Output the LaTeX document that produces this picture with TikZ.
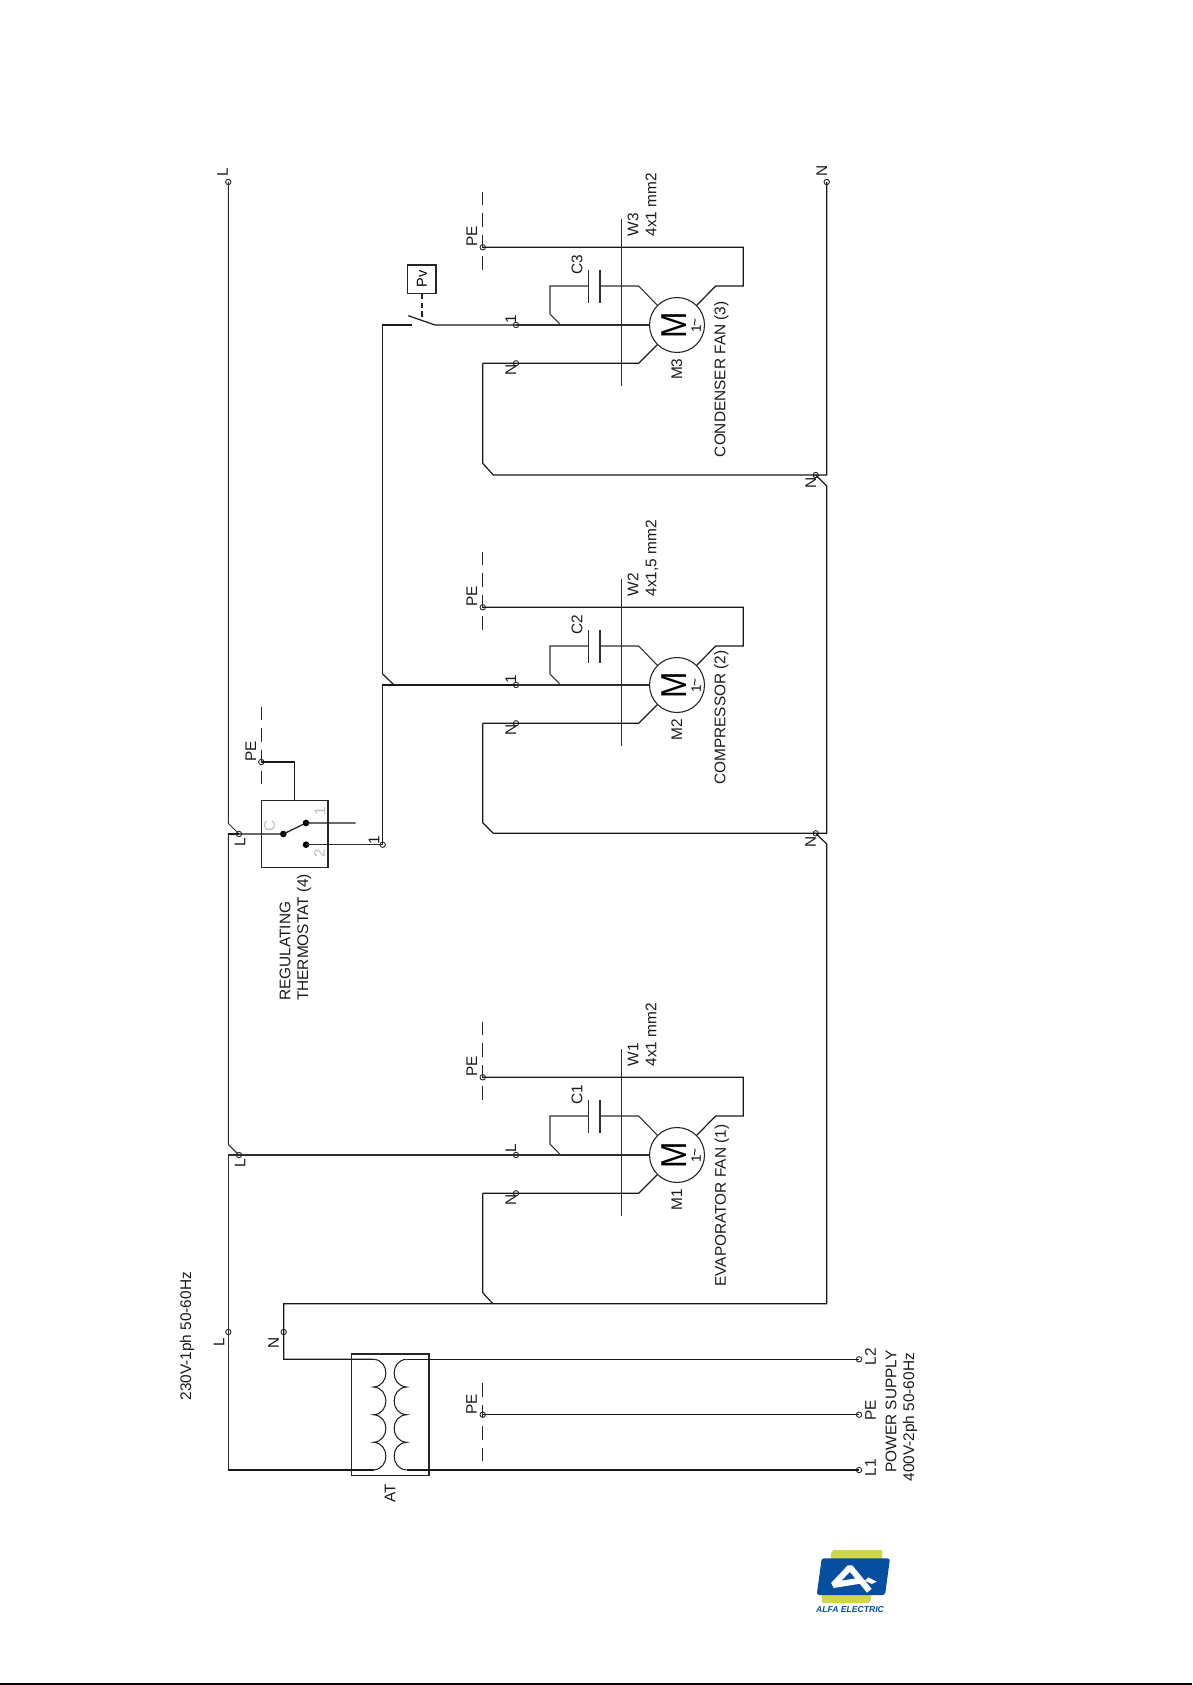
\documentclass[tikz,border=0pt]{standalone}
\usepackage{fontspec}
\setmainfont{Liberation Sans}
\definecolor{logoblue}{RGB}{6,78,160}
\definecolor{logoyel}{RGB}{206,214,74}
\tikzset{
  wire/.style={line width=1.2pt,line join=miter,black!90},
  thin wire/.style={line width=1.05pt,black!82},
  term/.style={circle,draw=black!85,line width=0.9pt,minimum size=5.4pt,inner sep=0pt},
  dotc/.style={circle,fill=black,minimum size=6.6pt,inner sep=0pt},
  lab/.style={rotate=90,inner sep=0pt,text height=10.9pt,text depth=0pt,font=\fontsize{15.4}{18}\selectfont,black!90},
  labstart/.style={lab,anchor=west},
  glab/.style={lab,black!25},
  pedash/.style={line width=1.1pt,black!85,dash pattern=on 13.5pt off 8pt},
  box/.style={draw=black!85,line width=1.1pt,inner sep=0pt}
}
\newcommand{\motorunit}[7]{%
 \begin{scope}[shift={(0,#2)}]
  \node[box,circle,minimum size=55pt] (#1mot) at (677,0) {};
  \node[rotate=90,inner sep=0pt,font=\fontsize{36}{38}\selectfont,text height=25.8pt,text depth=0pt,black] (#1big) at (673.5,0) {\scalebox{0.88}[1]{M}};
  \node[rotate=90,inner sep=0pt,font=\fontsize{13.5}{14}\selectfont,text height=9.7pt,text depth=0pt] (#1phase) at (696,0.7) {1\kern-1pt\raisebox{1.5pt}{\textasciitilde}};
  \node[term] (#1top) at (516,0) {};
  \node[term] (#1n) at (516,38.3) {};
  \node[term] (#1pe) at (482.7,-77.7) {};
  \coordinate (#1nc) at (482.7,38.3);
  \coordinate (#1nd) at (638.7,38.3);
  \coordinate (#1ja) at (560.7,0);
  \coordinate (#1jb) at (550,-11);
  \coordinate (#1jc) at (550,-39);
  \coordinate (#1p1) at (588.3,-39);
  \coordinate (#1p2) at (600,-39);
  \coordinate (#1cd) at (638.7,-39);
  \coordinate (#1ea) at (743.3,-77.7);
  \coordinate (#1eb) at (743.3,-39);
  \coordinate (#1ec) at (715.7,-39);
  \draw[thin wire] (#1top.center) -- (#1mot);
  \draw[wire] (#1nc) -- (#1n.center) -- (#1nd) -- (#1mot.225);
  \draw[thin wire] (#1ja) -- (#1jb) -- (#1jc) -- (#1p1);
  \draw[thin wire] (#1p2) -- (#1cd) -- (#1mot.135);
  \draw[thin wire] (588.3,-55) -- (588.3,-21.7);
  \draw[thin wire] (600,-55) -- (600,-21.7);
  \draw[wire] (#1pe.center) -- (#1ea) -- (#1eb) -- (#1ec) -- (#1mot.45);
  \draw[thin wire] (621.7,-105.7) -- (621.7,61);
  \draw[pedash] (482.7,-133.3) -- (482.7,-55);
  \node[lab] (#1pelab) at (471.7,-88.3) {PE};
  #7
  \node[lab] (#1nlab) at (510.7,45) {N};
  \node[lab] (#1clab) at (577,-60) {#4};
  \node[labstart] (#1wlab) at (633,-88.3) {#5};
  \node[labstart] (#1slab) at (651,-88.3) {#6};
  \node[lab] (#1mlab) at (676.7,44.3) {#3};
 \end{scope}}
\begin{document}
\begin{tikzpicture}[x=1pt,y=-1pt]
\useasboundingbox (0,0) rectangle (1192,1685);
\fill[black] (0,1683.4) rectangle (1192,1685);

% motor groups
\motorunit{a}{1155}{M1}{C1}{W1}{4x1 mm2}{\node[lab] (atoplab) at (510.7,-7) {L};}
\motorunit{b}{685}{M2}{C2}{W2}{4x1,5 mm2}{\node[lab] (btoplab) at (510.7,-6) {1};}
\motorunit{c}{325}{M3}{C3}{W3}{4x1 mm2}{\node[lab] (ctoplab) at (510.7,-6) {1};}

% terminals
\node[term] (tL) at (228.3,182) {};
\node[term] (tN) at (826.7,182) {};
\node[term] (jNc) at (815.7,475) {};
\node[term] (jNb) at (815.7,833.3) {};
\node[term] (jLth) at (239,834) {};
\node[term] (jLa) at (239,1155) {};
\node[term] (t1) at (382.7,844.7) {};
\node[term] (tPEth) at (261.3,762) {};
\node[term] (tLo) at (228.3,1332) {};
\node[term] (tNo) at (283.7,1332) {};
\node[term] (tPEo) at (482.7,1414.7) {};
\node[term] (tL1) at (859,1470) {};
\node[term] (tPE) at (859,1414.7) {};
\node[term] (tL2) at (859,1359.3) {};

% corners
\coordinate (Lj1) at (228.3,823.3);
\coordinate (Lc1) at (228.3,834);
\coordinate (Lj2) at (228.3,1144.3);
\coordinate (Lc2) at (228.3,1155);
\coordinate (Lc3) at (228.3,1470);
\coordinate (Nc1) at (826.7,475);
\coordinate (Nj1) at (826.7,486);
\coordinate (Nc2) at (826.7,833.3);
\coordinate (Nj2) at (826.7,844);
\coordinate (Nc3) at (826.7,1303.7);
\coordinate (Nc4) at (283.7,1303.7);
\coordinate (Nc5) at (283.7,1359.3);
\coordinate (coilNw) at (373.5,1359.3);
\coordinate (coilLw) at (373.5,1470);
\coordinate (coilNe) at (406.6,1359.3);
\coordinate (coilLe) at (406.6,1470);
\coordinate (sw1) at (382.7,685);
\coordinate (sw2) at (382.7,325);
\coordinate (sw3) at (412.3,325);
\coordinate (sw4) at (435,325);
\coordinate (sw5) at (408.3,315.7);
\coordinate (swj) at (382.7,674);
\coordinate (swk) at (394,685);
\coordinate (pvd) at (421.85,319.5);

% L line
\draw[thin wire] (tL.center) -- (Lj1) -- (jLth.center);
\draw[thin wire] (Lc1) -- (Lj2) -- (jLa.center);
\draw[wire] (Lc1) -- (jLth.center);
\draw[thin wire] (Lc2) -- (atop.center);
\draw[thin wire] (Lc2) -- (Lc3);
\draw[wire] (Lc3) -- (coilLw);

% N line
\draw[wire] (tN.center) -- (Nc1) -- (jNc.center) -- (Nj1) -- (Nc2) -- (jNb.center) -- (Nj2) -- (Nc3) -- (Nc4) -- (Nc5) -- (coilNw);
\draw[wire] (cnc) -- (482.7,463.3) -- (493.3,475) -- (jNc.center);
\draw[wire] (bnc) -- (482.7,822.7) -- (493.3,833.3) -- (jNb.center);
\draw[wire] (anc) -- (482.7,1292.7) -- (492.9,1303.7);

% thermostat
\node[box,minimum width=66.7pt,minimum height=66.6pt] (thbox) at (294.65,834) {};
\node[dotc] (dC) at (283.3,834) {};
\node[dotc] (d1) at (306,823) {};
\node[dotc] (d2) at (306,844.7) {};
\coordinate (d1e) at (355.7,823);
\draw[wire] (jLth.center) -- (dC.center) -- (d1.center) -- (d1e);
\draw[thin wire] (d2.center) -- (t1.center);
\draw[wire] (t1.center) -- (sw1) -- (btop.center);
\draw[wire] (tPEth.center) -| (thbox.north);
\draw[pedash] (261.3,706.7) -- (261.3,784);
\node[glab] (thC) at (269.3,825.7) {C};
\node[glab] (th1) at (320,811) {1};
\node[glab] (th2) at (319.5,853.3) {2};

% switch and Pv
\node[box,rotate=90,minimum size=28.3pt,font=\fontsize{14.5}{16}\selectfont] (pv) at (421.85,279.15) {Pv};
\draw[wire] (swj) -- (sw2) -- (sw3);
\draw[wire] (swj) -- (swk);
\draw[wire] (sw5) -- (sw4) -- (ctop.center);
\draw[line width=1.6pt,black!85,dash pattern=on 5.5pt off 3.2pt] (pv.west) -- (pvd);

% transformer
\node[box,minimum width=77.5pt,minimum height=121.7pt] (at) at (390.25,1414.85) {};
\draw[line width=1.05pt,black!88] (coilNw)
  .. controls (390,1360) and (390,1386) .. (373.5,1387)
  .. controls (390,1388) and (390,1414) .. (373.5,1414.7)
  .. controls (390,1415.7) and (390,1441) .. (373.5,1442.3)
  .. controls (390,1443.3) and (390,1469) .. (coilLw);
\draw[line width=1.05pt,black!88] (coilNe)
  .. controls (390,1360) and (390,1386) .. (406.6,1387)
  .. controls (390,1388) and (390,1414) .. (406.6,1414.7)
  .. controls (390,1415.7) and (390,1441) .. (406.6,1442.3)
  .. controls (390,1443.3) and (390,1469) .. (coilLe);
\draw[wire] (coilNe) -- (tL2.center);
\draw[wire] (coilLe) -- (tL1.center);
\draw[wire] (tPEo.center) -- (tPE.center);
\draw[pedash] (482.7,1383) -- (482.7,1461.3);

% free labels
\node[lab] (lLtop) at (222.5,172) {L};
\node[lab] (lNtop) at (821.7,170.7) {N};
\node[lab] (lNc) at (810.7,482.7) {N};
\node[lab] (lNb) at (810.3,841.7) {N};
\node[lab] (lLth) at (240,842.3) {L};
\node[lab] (lPEth) at (250.7,751.7) {PE};
\node[lab] (l1) at (374,840.5) {1};
\node[lab] (lLa) at (240,1163) {L};
\node[lab] (lLo) at (218.9,1342.7) {L};
\node[lab] (lNo) at (273.5,1342.7) {N};
\node[lab] (lPEo) at (471.4,1404) {PE};
\node[lab] (lL2) at (870.4,1356.7) {L2};
\node[lab] (lPE) at (870.4,1410) {PE};
\node[lab] (lL1) at (870.4,1467.7) {L1};
\node[labstart] (lps) at (890.8,1472.7) {POWER SUPPLY};
\node[labstart] (lps2) at (908.7,1481.7) {400V-2ph 50-60Hz};
\node[labstart] (l230) at (185.7,1400.7) {230V-1ph 50-60Hz};
\node[lab] (lAT) at (390,1493) {AT};
\node[labstart] (lreg1) at (285,1001) {REGULATING};
\node[labstart] (lreg2) at (302.7,1001) {THERMOSTAT (4)};
\node[labstart] (lm1) at (720.5,1286.7) {EVAPORATOR FAN (1)};
\node[labstart] (lm2) at (720,785) {COMPRESSOR (2)};
\node[labstart] (lm3) at (720,457.3) {CONDENSER FAN (3)};

% logo
\fill[logoyel,rounded corners=2pt] (831.7,1550) -- (882.7,1550) -- (881.5,1562) -- (830,1562) -- cycle;
\fill[logoyel,rounded corners=2pt] (821.7,1590) -- (872.5,1590) -- (870,1603) -- (821.7,1603) -- cycle;
\fill[logoblue,rounded corners=2.5pt] (821.7,1558.3) -- (890,1558.3) -- (885,1595) -- (816.7,1595) -- cycle;
\draw[white,line width=6pt,line join=bevel] (869.3,1590.7) -- (850,1567.3) -- (833.3,1585) -- (860,1580.7);
\fill[white] (868.3,1577.3) -- (876.7,1581.7) -- (871.7,1584) -- (865,1580.7) -- cycle;
\node[inner sep=0pt,text=logoblue,font=\fontsize{8.6}{10}\selectfont\bfseries\itshape] (logotext) at (850,1609.3) {ALFA ELECTRIC};
\end{tikzpicture}
\end{document}
